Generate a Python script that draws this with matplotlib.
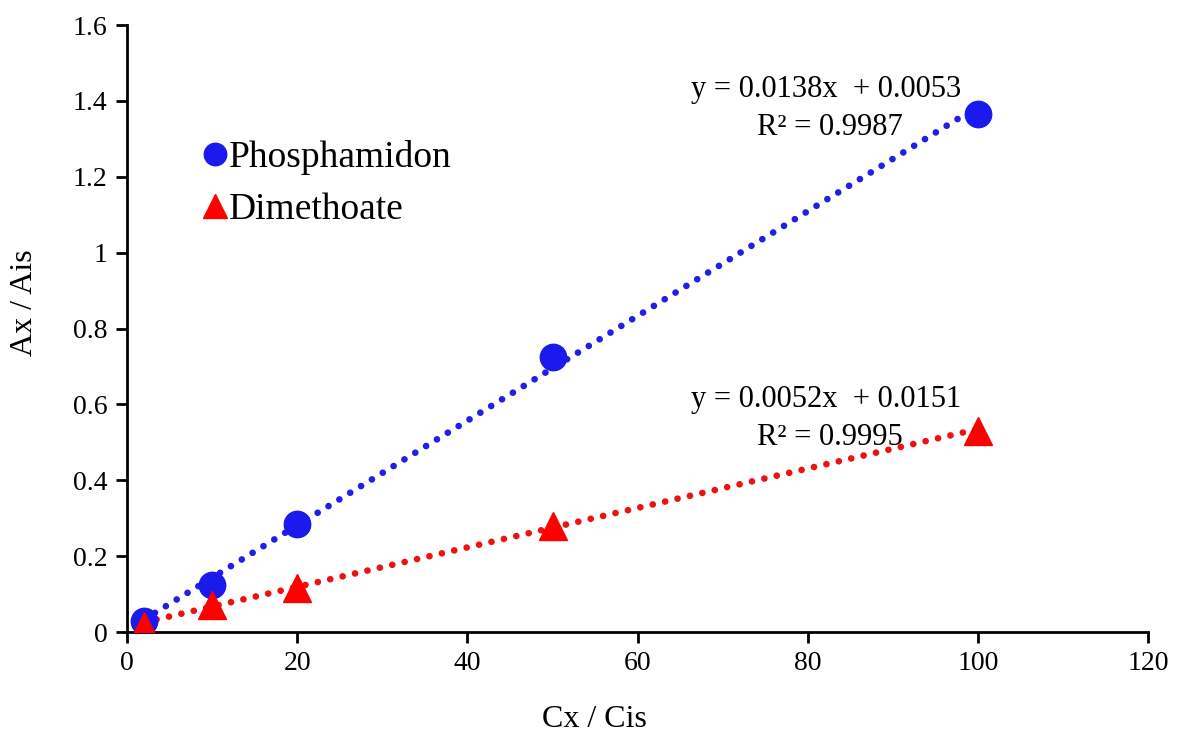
#!/usr/bin/env python3
import matplotlib
matplotlib.use('Agg')
import matplotlib.pyplot as plt
import numpy as np

# ratio of concentrations and peak areas (analyte / internal standard)
conc = [2, 10, 20, 50, 100]
phos = [0.03, 0.125, 0.285, 0.725, 1.365]
dime = [0.015, 0.07, 0.115, 0.28, 0.53]

# linear fits as reported
phos_fit = (0.0138, 0.0053, 0.9987)
dime_fit = (0.0052, 0.0151, 0.9995)


def main():
    plt.rcParams['font.family'] = ['Liberation Serif', 'DejaVu Serif']
    fig = plt.figure(figsize=(11.77, 7.38), dpi=100)
    ax = fig.add_axes([0.108, 0.1436, 0.8674, 0.8224])

    x = np.array([conc[0], conc[-1]])
    dots = (0, (0.01, 1.9))
    # trendlines first so the markers sit on top
    ax.plot(x, phos_fit[0]*x + phos_fit[1], color='#1f1fe8', lw=4.8,
            ls=dots, dash_capstyle='round', zorder=2)
    ax.plot(x, dime_fit[0]*x + dime_fit[1], color='#ee1111', lw=4.8,
            ls=dots, dash_capstyle='round', zorder=2)

    ax.plot(conc, phos, 'o', color='#1a1aee', ms=19, zorder=3, label='Phosphamidon')
    ax.plot(conc, dime, '^', color='#ff0000', ms=20, zorder=3, label='Dimethoate')

    ax.text(82.2, 1.429, 'y = 0.0138x  + 0.0053', ha='center', va='center', fontsize=22)
    ax.text(82.6, 1.329, 'R² = %.4f' % phos_fit[2], ha='center', va='center', fontsize=22)
    ax.text(82.2, 0.612, 'y = 0.0052x  + 0.0151', ha='center', va='center', fontsize=22)
    ax.text(82.6, 0.514, 'R² = %.4f' % dime_fit[2], ha='center', va='center', fontsize=22)

    ax.set_xlim(0, 120)
    ax.set_ylim(0, 1.6)
    ax.set_xticks(np.arange(0, 121, 20))
    ax.set_yticks(np.arange(0, 1.61, 0.2))
    ax.set_yticklabels(['0', '0.2', '0.4', '0.6', '0.8', '1', '1.2', '1.4', '1.6'])
    ax.tick_params(labelsize=20, width=2, length=8, direction='out', pad=6)
    for s in ['top', 'right']:
        ax.spines[s].set_visible(False)
    for s in ['left', 'bottom']:
        ax.spines[s].set_linewidth(2)

    ax.set_xlabel('Cx / Cis', fontsize=23)
    ax.xaxis.set_label_coords(0.458, -0.12)
    ax.set_ylabel('Ax / Ais', fontsize=23)
    ax.yaxis.set_label_coords(-0.086, 0.542)

    ax.legend(loc='upper left', bbox_to_anchor=(0.0754, 0.811), frameon=False,
              fontsize=27, handlelength=0.6, handletextpad=0.05, labelspacing=0.48,
              borderpad=0, borderaxespad=0, markerscale=0.85)

    fig.savefig('out.png', dpi=100)


if __name__ == "__main__":
    main()
